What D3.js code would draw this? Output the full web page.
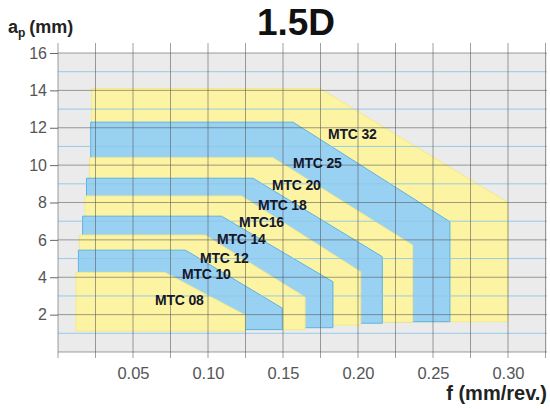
<!DOCTYPE html>
<html><head><meta charset="utf-8">
<script src="https://cdn.jsdelivr.net/npm/d3@7"></script>
<style>
html,body{margin:0;padding:0;background:#fff;}
svg{display:block;font-family:"Liberation Sans",Arial,Helvetica,sans-serif;}
</style></head>
<body><svg id="c" width="550" height="409"></svg>
<script>
// ---- data ----
const tools      = ["MTC 32","MTC 25","MTC 20","MTC 18","MTC16","MTC 14","MTC 12","MTC 10","MTC 08"];
const leftF      = [0.0224, 0.0218, 0.0210, 0.0190, 0.0180, 0.0164, 0.0142, 0.0136, 0.0120];
const topAp      = [14.1, 12.3, 10.4, 9.3, 8.35, 7.27, 6.26, 5.45, 4.26];
const kneeF      = [0.1747, 0.1567, 0.1433, 0.1300, 0.1224, 0.1090, 0.0980, 0.0850, 0.0713];
const rightF     = [0.300, 0.2613, 0.2364, 0.2162, 0.2018, 0.1833, 0.1647, 0.1495, 0.1247];
const rightTopAp = [8.0, 6.97, 5.72, 5.1, 4.29, 3.76, 2.94, 2.35, 1.98];
const bottomAp   = [1.62, 1.62, 1.6, 1.54, 1.44, 1.3, 1.2, 1.2, 1.12];
const labelF     = [0.1800, 0.1567, 0.1427, 0.1333, 0.1207, 0.1060, 0.0947, 0.0827, 0.0647];
const labelAp    = [11.39, 9.84, 8.66, 7.59, 6.68, 5.78, 4.78, 3.90, 2.51];
const xTicks     = [0.05, 0.10, 0.15, 0.20, 0.25, 0.30];
const xTickLabels= ["0.05","0.10","0.15","0.20","0.25","0.30"];
const yTicks     = [2, 4, 6, 8, 10, 12, 14, 16];
const xGrid      = [0.025,0.05,0.075,0.10,0.125,0.15,0.175,0.20,0.225,0.25,0.275,0.30,0.325];
const yGridMajor = [0,2,4,6,8,10,12,14,16];
const yGridMinor = [1,3,5,7,9,11,13,15];

// ---- chart ----
const svg = d3.select("#c");
const x = d3.scaleLinear().domain([0, 0.326]).range([58, 547]);
const y = d3.scaleLinear().domain([0, 16]).range([352, 53]);
const YELLOW = "#fcf4a3", BLUE = "#99d1f2";

svg.append("rect").attr("x", x(0)).attr("y", y(16))
  .attr("width", x(0.326) - x(0)).attr("height", y(0) - y(16))
  .attr("fill", "#ebebeb");

const regions = tools.map((t, i) => ({
  name: t, i,
  pts: [[leftF[i], bottomAp[i]], [leftF[i], topAp[i]], [kneeF[i], topAp[i]],
        [rightF[i], rightTopAp[i]], [rightF[i], bottomAp[i]]]
}));
const line = d3.line().x(d => x(d[0])).y(d => y(d[1]));
svg.append("g").selectAll("path").data(regions).join("path")
  .attr("d", d => line(d.pts) + "Z")
  .attr("fill", d => d.i % 2 === 0 ? YELLOW : BLUE)
  .attr("stroke", d => d.i % 2 === 0 ? "#f3e98a" : "#5fb3e2")
  .attr("stroke-width", 1)
  .attr("stroke-linejoin", "round");

// grid
const g = svg.append("g");
g.selectAll("line.mn").data(yGridMinor).join("line")
  .attr("x1", x(0)).attr("x2", x(0.326))
  .attr("y1", d => y(d)).attr("y2", d => y(d))
  .attr("stroke", "#8fc9e6").attr("stroke-width", 1).attr("opacity", 0.9);
g.selectAll("line.mj").data(yGridMajor).join("line")
  .attr("x1", x(0)).attr("x2", x(0.326))
  .attr("y1", d => y(d)).attr("y2", d => y(d))
  .attr("stroke", "#555").attr("stroke-width", 0.8).attr("opacity", 0.7);
g.selectAll("line.v").data([0].concat(xGrid)).join("line")
  .attr("x1", d => x(d)).attr("x2", d => x(d))
  .attr("y1", y(16) - 10).attr("y2", y(0) + 6)
  .attr("stroke", "#555").attr("stroke-width", 0.8).attr("opacity", 0.7);

// axes
const ya = svg.append("g").attr("transform", `translate(${x(0)},0)`)
  .call(d3.axisLeft(y).tickValues(yTicks).tickSize(8).tickPadding(3).tickFormat(d3.format("d")));
ya.select(".domain").remove();
ya.selectAll("line").attr("stroke", "#666");
ya.selectAll("text").attr("font-size", 16).attr("fill", "#555").attr("font-family", "Liberation Sans, Arial, sans-serif");

const xa = svg.append("g").attr("transform", `translate(0,${y(0)})`)
  .call(d3.axisBottom(x).tickValues(xTicks).tickSize(0).tickPadding(15)
    .tickFormat((d, i) => xTickLabels[i]));
xa.select(".domain").remove();
xa.selectAll("text").attr("font-size", 16.5).attr("fill", "#555").attr("font-family", "Liberation Sans, Arial, sans-serif");

// labels
svg.append("g").selectAll("text").data(regions).join("text")
  .attr("x", d => x(labelF[d.i])).attr("y", d => y(labelAp[d.i]))
  .attr("font-size", 14).attr("font-weight", "bold").attr("fill", "#15172a")
  .attr("letter-spacing", -0.2)
  .text(d => d.name);

// titles
svg.append("text").attr("x", 296).attr("y", 35).attr("text-anchor", "middle")
  .attr("font-size", 37).attr("font-weight", "bold").attr("fill", "#111").text("1.5D");
const yt = svg.append("text").attr("x", 8).attr("y", 33).attr("font-weight", "bold").attr("fill", "#222");
yt.append("tspan").attr("font-size", 18).text("a");
yt.append("tspan").attr("font-size", 12).attr("dy", 4).text("p");
yt.append("tspan").attr("font-size", 18).attr("dy", -4).attr("dx", 4).text("(mm)");
svg.append("text").attr("x", 547).attr("y", 400).attr("text-anchor", "end")
  .attr("font-size", 20).attr("font-weight", "bold").attr("fill", "#222").text("f (mm/rev.)");
</script></body></html>
